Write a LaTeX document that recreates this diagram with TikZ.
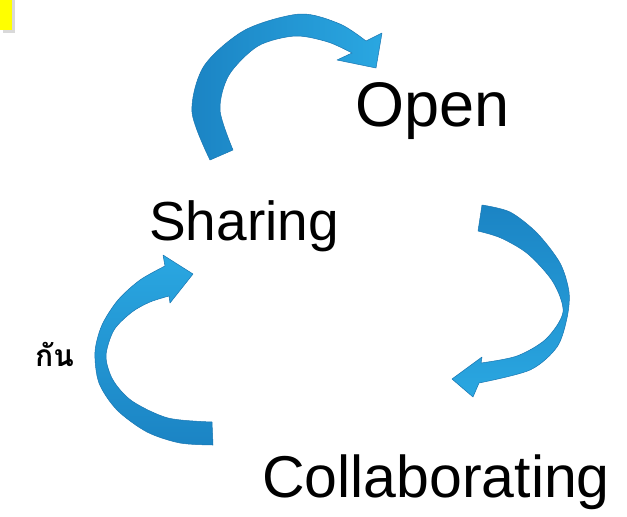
\documentclass[tikz,border=0pt]{standalone}
\usepackage{fontspec}
\setmainfont{Liberation Sans}
\newfontfamily\thaifont[Script=Thai]{Loma}
\definecolor{ribbonlight}{RGB}{42,167,225}
\definecolor{ribbondark}{RGB}{27,132,196}
\definecolor{ribbonedge}{RGB}{24,118,178}
\definecolor{notebox}{RGB}{255,255,0}

\begin{document}
\begin{tikzpicture}[x=1pt,y=-1pt,
  word/.style = {inner sep=0pt, anchor=base west},
  ribbon/.style = {draw=ribbonedge, line width=0.5pt, line join=round}]
\useasboundingbox (0,0) rectangle (627,517);
\fill[white] (0,0) rectangle (627,517);
% corner of the note box
\fill[gray!30] (3,0) rectangle (15,33);
\fill[notebox] (0,0) rectangle (12,30);
% the three words
\node[word, font=\fontsize{63}{72}\selectfont] (open) at (355,126) {Open};
\node[word, font=\fontsize{55}{66}\selectfont] (sharing) at (149,240) {Sharing};
\node[word, font=\fontsize{59}{70}\selectfont] (collab) at (262,497) {Collaborating};
\node[font=\thaifont\bfseries\fontsize{30}{36}\selectfont, inner sep=0pt, anchor=base east] (kan) at (74,366) {กัน};
% Sharing -> Open
\path[ribbon, left color=ribbondark, right color=ribbonlight]
  plot[smooth] coordinates {(210,160) (192,112) (204,66) (245,30) (300,14) (340,24) (366,41)}
  -- (382,33) -- (376,68) -- (337,60)
  -- plot[smooth] coordinates {(352,53) (328,42) (295,36) (258,46) (229,75) (220,110) (233,150)}
  -- cycle;
% Open -> Collaborating
\path[ribbon, top color=ribbondark, bottom color=ribbonlight]
  plot[smooth] coordinates {(482,205) (510,212) (537,233) (560,263) (569,292) (567,318) (557,347) (530,370) (479,383)}
  -- (473,397) -- (452,379) -- (482,357)
  -- plot[smooth] coordinates {(481,363) (517,356) (546,339) (563,312) (553,282) (528,254) (501,238) (478,231)}
  -- cycle;
% Collaborating -> Sharing
\path[ribbon, top color=ribbonlight, bottom color=ribbondark]
  plot[smooth] coordinates {(165,266) (140,280) (118,300) (102,325) (95,352) (99,383) (117,410) (147,432) (180,443) (213,445)}
  -- plot[smooth] coordinates {(212,422) (168,418) (132,401) (113,380) (106,356) (114,330) (132,312) (150,302) (169,296)}
  -- (170,303) -- (193,274) -- (163,255)
  -- cycle;
\end{tikzpicture}
\end{document}
